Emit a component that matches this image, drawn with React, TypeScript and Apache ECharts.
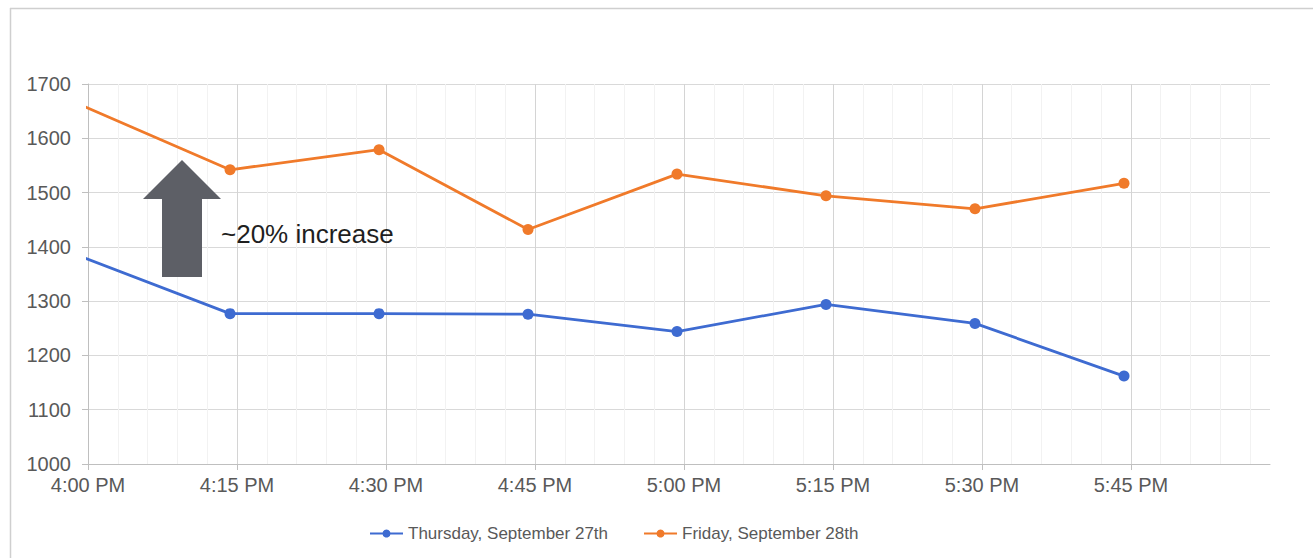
import React, { useEffect, useRef } from "react";
import * as echarts from "echarts";

// minutes after 4:00 PM at which each reading was taken
const times = [-0.7, 14.3, 29.3, 44.3, 59.3, 74.3, 89.3, 104.3];
const thursday = [1382, 1277, 1277, 1276, 1244, 1294, 1259, 1162];
const friday = [1661, 1542, 1579, 1432, 1534, 1494, 1470, 1517];
const tickLabels = ["4:00 PM", "4:15 PM", "4:30 PM", "4:45 PM", "5:00 PM", "5:15 PM", "5:30 PM", "5:45 PM"];
const seriesNames = ["Thursday, September 27th", "Friday, September 28th"];
const annotation = "~20% increase";

const FONT = "Liberation Sans, Arial, sans-serif";

export default function App() {
  const ref = useRef<HTMLDivElement>(null);
  useEffect(() => {
    const chart = echarts.init(ref.current!, null, { renderer: "svg" });
    const pair = (vals: number[]) => vals.map((v, i) => [times[i], v]);
    chart.setOption({
      animation: false,
      backgroundColor: "#ffffff",
      textStyle: { fontFamily: FONT },
      grid: { left: 88, right: 43, top: 84, bottom: 94, containLabel: false },
      legend: {
        top: 520,
        left: 364,
        itemWidth: 33,
        itemHeight: 10,
        itemGap: 35,
        textStyle: { fontSize: 17, color: "#595959", fontFamily: FONT },
        data: seriesNames,
      },
      xAxis: {
        type: "value",
        min: 0,
        max: 119,
        interval: 15,
        axisLine: { show: true, lineStyle: { color: "#bfbfbf", width: 1 } },
        axisTick: { show: true, length: 6, lineStyle: { color: "#bfbfbf" } },
        axisLabel: {
          fontSize: 20,
          color: "#595959",
          margin: 11,
          fontFamily: FONT,
          showMaxLabel: false,
          formatter: (v: number) => {
            const i = Math.round(v / 15);
            return Math.abs(v - i * 15) < 0.01 && tickLabels[i] ? tickLabels[i] : "";
          },
        },
        splitLine: {
          show: true,
          lineStyle: {
            color: ["#d4d4d4", "#d4d4d4", "#d4d4d4", "#d4d4d4", "#d4d4d4", "#d4d4d4", "#d4d4d4", "#d4d4d4", "rgba(0,0,0,0)"],
            width: 1,
          },
        },
        minorTick: { show: false, splitNumber: 5 },
        minorSplitLine: { show: true, lineStyle: { color: "#f2f2f2", width: 1 } },
      },
      yAxis: {
        type: "value",
        min: 1000,
        max: 1700,
        interval: 100,
        axisLine: { show: true, lineStyle: { color: "#bfbfbf", width: 1 } },
        axisTick: { show: true, length: 6, lineStyle: { color: "#bfbfbf" } },
        axisLabel: {
          fontSize: 20,
          color: "#595959",
          margin: 17,
          fontFamily: FONT,
          formatter: (v: number) => String(v),
        },
        splitLine: { show: true, lineStyle: { color: "#d9d9d9", width: 1 } },
      },
      series: [
        {
          name: seriesNames[0],
          type: "line",
          data: pair(thursday),
          color: "#3e6bd1",
          lineStyle: { width: 2.8 },
          symbol: "circle",
          symbolSize: 11,
          clip: true,
          z: 3,
        },
        {
          name: seriesNames[1],
          type: "line",
          data: pair(friday),
          color: "#f07a2a",
          lineStyle: { width: 2.8 },
          symbol: "circle",
          symbolSize: 11,
          clip: true,
          z: 3,
        },
      ],
      graphic: [
        { type: "line", shape: { x1: 10, y1: 8.5, x2: 1313, y2: 8.5 }, style: { stroke: "#cfcfcf", lineWidth: 1.5 } },
        { type: "line", shape: { x1: 10.5, y1: 8, x2: 10.5, y2: 558 }, style: { stroke: "#cfcfcf", lineWidth: 1.5 } },
        {
          type: "polygon",
          shape: {
            points: [
              [182, 160],
              [221, 199],
              [202, 199],
              [202, 277],
              [162, 277],
              [162, 199],
              [143, 199],
            ],
          },
          style: { fill: "#5d5f66" },
          z: 10,
        },
        {
          type: "text",
          x: 221,
          y: 234,
          style: {
            text: annotation,
            fontSize: 26,
            fontFamily: FONT,
            fill: "#1f1f1f",
            verticalAlign: "middle",
            align: "left",
          },
          z: 10,
        },
      ],
    });
    return () => chart.dispose();
  }, []);
  return <div ref={ref} style={{ position: "fixed", left: 0, top: 0, width: 1313, height: 558 }} />;
}
